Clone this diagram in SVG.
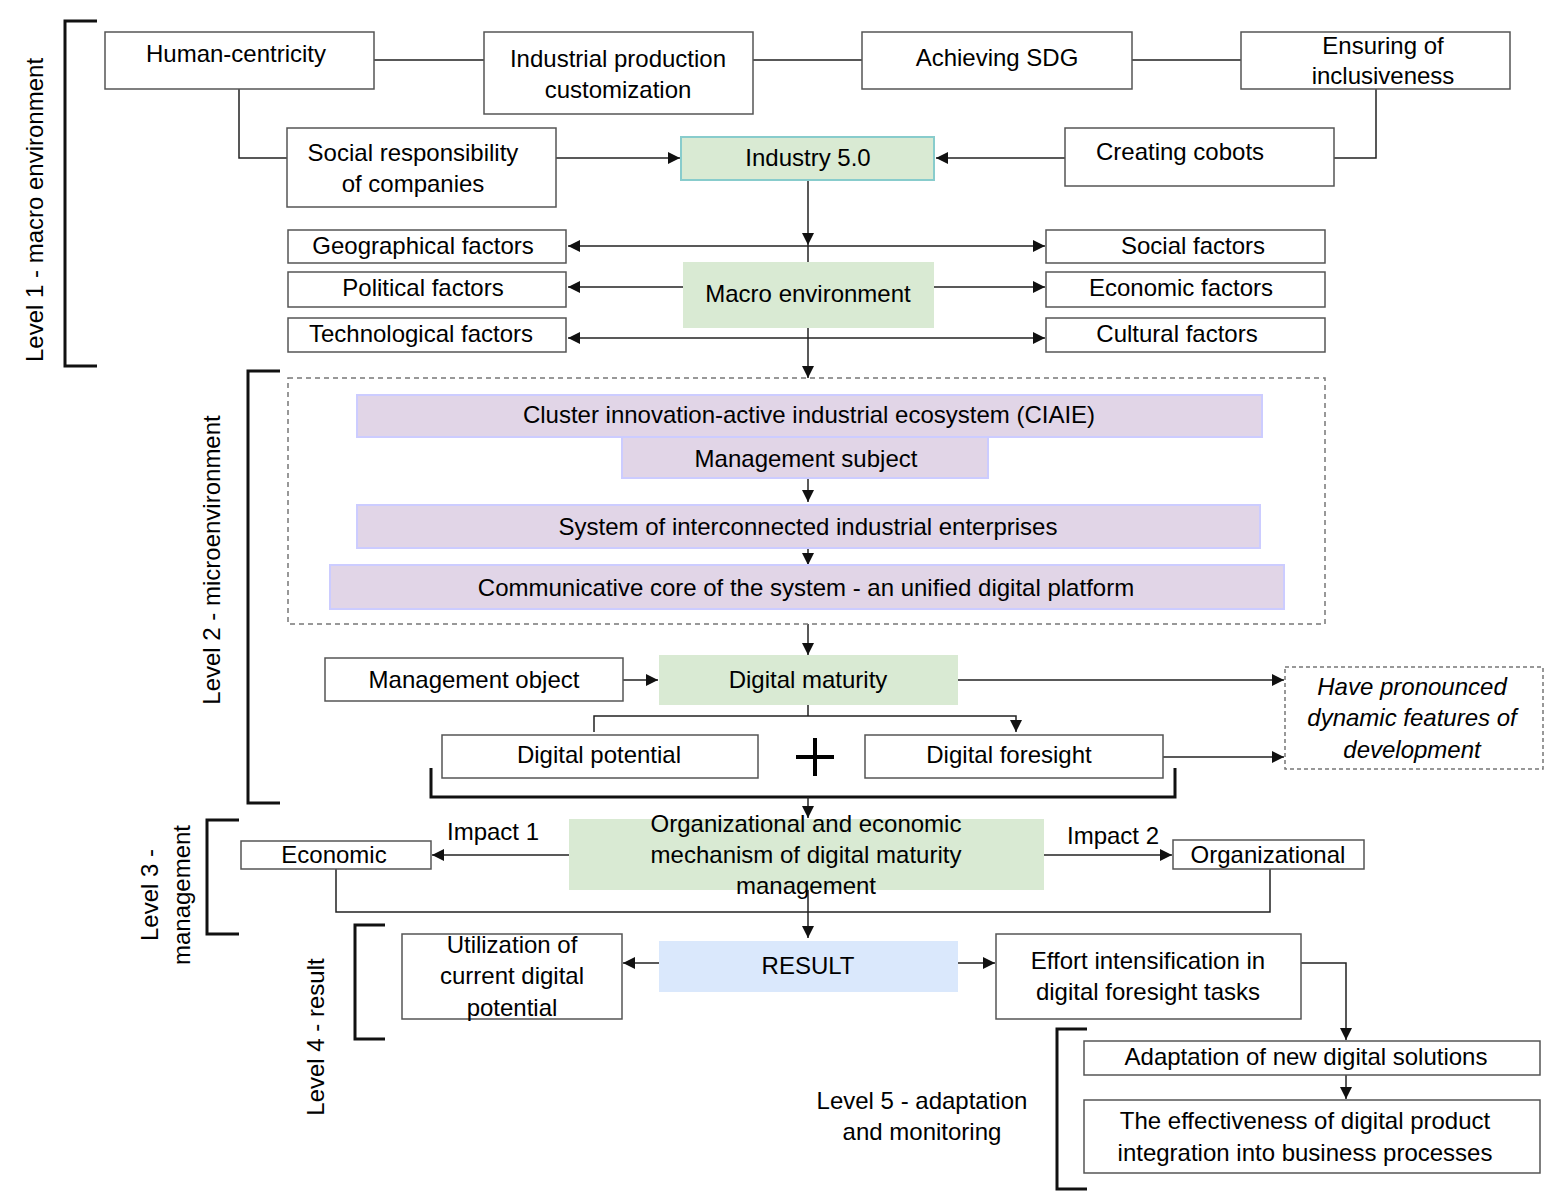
<svg xmlns="http://www.w3.org/2000/svg" width="1564" height="1196" viewBox="0 0 1564 1196">
<style>
text{font-family:"Liberation Sans",Arial,sans-serif;font-size:24px;fill:#000;text-anchor:middle}
.b{fill:#fff;stroke:#555;stroke-width:1.5}
.g{fill:#d9ead3;stroke:none}
.p{fill:#e1d5e7;stroke:#ccf;stroke-width:2}
.l{fill:none;stroke:#222;stroke-width:1.5}
.k{fill:none;stroke:#111;stroke-width:3}
</style>
<defs><marker id="a" viewBox="0 0 10 10" refX="10" refY="5" markerWidth="8" markerHeight="8" orient="auto-start-reverse"><path d="M0,0L10,5L0,10z" fill="#111"/></marker></defs>
<rect width="1564" height="1196" fill="#fff"/>
<g id="connectors">
<path class="l" d="M374,60H484M753,60H862M1132,60H1241"/>
<path class="l" d="M239,89V158H287"/>
<path class="l" d="M1376,89V158H1334"/>
<path class="l" d="M556,158H680" marker-end="url(#a)"/>
<path class="l" d="M1065,158H936" marker-end="url(#a)"/>
<path class="l" d="M808,180V245" marker-end="url(#a)"/>
<path class="l" d="M808,245V262"/>
<path class="l" d="M568,246H1045" marker-start="url(#a)" marker-end="url(#a)"/>
<path class="l" d="M683,287H568" marker-end="url(#a)"/>
<path class="l" d="M934,287H1045" marker-end="url(#a)"/>
<path class="l" d="M568,338H1045" marker-start="url(#a)" marker-end="url(#a)"/>
<path class="l" d="M808,328V378" marker-end="url(#a)"/>
<path class="l" d="M808,478V502" marker-end="url(#a)"/>
<path class="l" d="M808,548V565" marker-end="url(#a)"/>
<path class="l" d="M808,624V655" marker-end="url(#a)"/>
<path class="l" d="M623,680H658" marker-end="url(#a)"/>
<path class="l" d="M958,680H1284" marker-end="url(#a)"/>
<path class="l" d="M808,705V716M594,732V716H1016V732" marker-end="url(#a)"/>
<path class="l" d="M1163,757H1284" marker-end="url(#a)"/>
<path class="k" d="M431,768V797H1175V768"/>
<path class="l" d="M808,797V818" marker-end="url(#a)"/>
<path class="l" d="M569,855H432" marker-end="url(#a)"/>
<path class="l" d="M1044,855H1172" marker-end="url(#a)"/>
<path class="l" d="M336,869V912H1270V869"/>
<path class="l" d="M808,890V938" marker-end="url(#a)"/>
<path class="l" d="M659,963H623" marker-end="url(#a)"/>
<path class="l" d="M958,963H995" marker-end="url(#a)"/>
<path class="l" d="M1301,963H1346V1040" marker-end="url(#a)"/>
<path class="l" d="M1346,1075V1099" marker-end="url(#a)"/>
<path d="M815,738V776M796,757H834" stroke="#000" stroke-width="4"/>
</g>
<g id="brackets">
<path class="k" d="M97,21H65V366H97"/>
<path class="k" d="M280,371H248V803H280"/>
<path class="k" d="M239,820H207V934H239"/>
<path class="k" d="M385,925H355V1039H385"/>
<path class="k" d="M1087,1029H1057V1189H1087"/>
<text transform="translate(43,210) rotate(-90)">Level 1 - macro environment</text>
<text transform="translate(220,560) rotate(-90)">Level 2 - microenvironment</text>
<text transform="translate(158,895) rotate(-90)">Level 3 -</text>
<text transform="translate(190,895) rotate(-90)">management</text>
<text transform="translate(324,1037) rotate(-90)">Level 4 - result</text>
<text x="922" y="1109">Level 5 - adaptation</text>
<text x="922" y="1140">and monitoring</text>
</g>
<g id="n1"><rect class="b" x="105" y="32" width="269" height="57"/><text x="236" y="62">Human-centricity</text></g>
<g id="n2"><rect class="b" x="484" y="32" width="269" height="82"/><text x="618" y="67">Industrial production</text><text x="618" y="98">customization</text></g>
<g id="n3"><rect class="b" x="862" y="32" width="270" height="57"/><text x="997" y="66">Achieving SDG</text></g>
<g id="n4"><rect class="b" x="1241" y="32" width="269" height="57"/><text x="1383" y="54">Ensuring of</text><text x="1383" y="84">inclusiveness</text></g>
<g id="n5"><rect class="b" x="287" y="128" width="269" height="79"/><text x="413" y="161">Social responsibility</text><text x="413" y="192">of companies</text></g>
<g id="n6"><rect x="681" y="137" width="253" height="43" fill="#d9ead3" stroke="#8cc" stroke-width="2"/><text x="808" y="166">Industry 5.0</text></g>
<g id="n7"><rect class="b" x="1065" y="128" width="269" height="58"/><text x="1180" y="160">Creating cobots</text></g>
<g id="n8"><rect class="b" x="288" y="230" width="278" height="33"/><text x="423" y="254">Geographical factors</text></g>
<g id="n9"><rect class="b" x="1046" y="230" width="279" height="33"/><text x="1193" y="254">Social factors</text></g>
<g id="n10"><rect class="b" x="288" y="272" width="278" height="35"/><text x="423" y="296">Political factors</text></g>
<g id="n11"><rect class="b" x="1046" y="272" width="279" height="35"/><text x="1181" y="296">Economic factors</text></g>
<g id="n12"><rect class="g" x="683" y="262" width="251" height="66"/><text x="808" y="302">Macro environment</text></g>
<g id="n13"><rect class="b" x="288" y="318" width="278" height="34"/><text x="421" y="342">Technological factors</text></g>
<g id="n14"><rect class="b" x="1046" y="318" width="279" height="34"/><text x="1177" y="342">Cultural factors</text></g>
<g id="micro"><rect x="288" y="378" width="1037" height="246" fill="none" stroke="#777" stroke-width="1.5" stroke-dasharray="5,4"/></g>
<g id="n15"><rect class="p" x="357" y="395" width="905" height="42"/><text x="809" y="423">Cluster innovation-active industrial ecosystem (CIAIE)</text></g>
<g id="n16"><rect class="p" x="622" y="437" width="366" height="41"/><text x="806" y="467">Management subject</text></g>
<g id="n17"><rect class="p" x="357" y="505" width="903" height="43"/><text x="808" y="535">System of interconnected industrial enterprises</text></g>
<g id="n18"><rect class="p" x="330" y="565" width="954" height="44"/><text x="806" y="596">Communicative core of the system - an unified digital platform</text></g>
<g id="n19"><rect class="b" x="325" y="658" width="298" height="43"/><text x="474" y="688">Management object</text></g>
<g id="n20"><rect class="g" x="659" y="655" width="299" height="50"/><text x="808" y="688">Digital maturity</text></g>
<g id="n21"><rect x="1285" y="667" width="258" height="102" fill="#fff" stroke="#777" stroke-width="1.5" stroke-dasharray="4,3"/><text x="1412" y="695" font-style="italic">Have pronounced</text><text x="1412" y="726" font-style="italic">dynamic features of</text><text x="1412" y="758" font-style="italic">development</text></g>
<g id="n22"><rect class="b" x="442" y="735" width="316" height="43"/><text x="599" y="763">Digital potential</text></g>
<g id="n23"><rect class="b" x="865" y="735" width="298" height="43"/><text x="1009" y="763">Digital foresight</text></g>
<g id="n24"><rect class="g" x="569" y="819" width="475" height="71"/><text x="806" y="832">Organizational and economic</text><text x="806" y="863">mechanism of digital maturity</text><text x="806" y="894">management</text></g>
<g id="n25"><rect class="b" x="241" y="841" width="190" height="28"/><text x="334" y="863">Economic</text></g>
<g id="n26"><rect class="b" x="1173" y="840" width="191" height="29"/><text x="1268" y="863">Organizational</text></g>
<text x="493" y="840">Impact 1</text>
<text x="1113" y="844">Impact 2</text>
<g id="n27"><rect x="659" y="941" width="299" height="51" fill="#dae8fc"/><text x="808" y="974">RESULT</text></g>
<g id="n28"><rect class="b" x="402" y="934" width="220" height="85"/><text x="512" y="953">Utilization of</text><text x="512" y="984">current digital</text><text x="512" y="1016">potential</text></g>
<g id="n29"><rect class="b" x="996" y="934" width="305" height="85"/><text x="1148" y="969">Effort intensification in</text><text x="1148" y="1000">digital foresight tasks</text></g>
<g id="n30"><rect class="b" x="1084" y="1041" width="456" height="34"/><text x="1306" y="1065">Adaptation of new digital solutions</text></g>
<g id="n31"><rect class="b" x="1084" y="1100" width="456" height="73"/><text x="1305" y="1129">The effectiveness of digital product</text><text x="1305" y="1161">integration into business processes</text></g>
</svg>
